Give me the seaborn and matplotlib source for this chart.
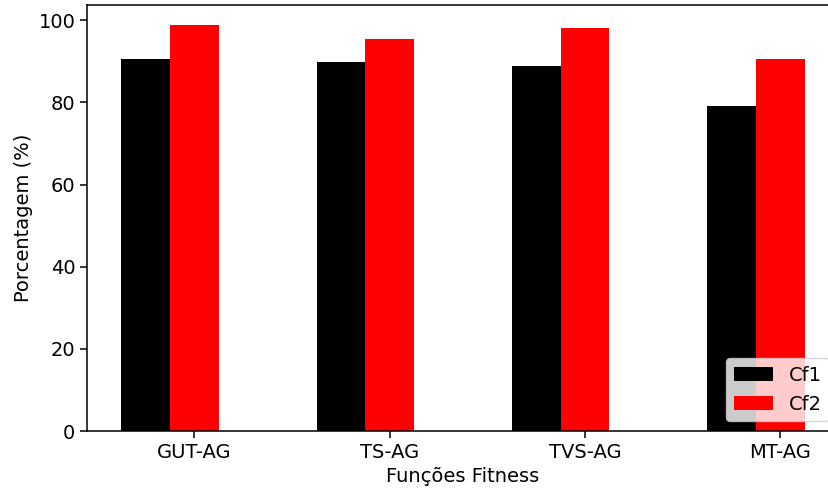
import numpy as np
import pandas as pd
import seaborn as sns
from matplotlib import pyplot as plt

# data
funcoes = ["GUT-AG", "TS-AG", "TVS-AG", "MT-AG"]
cf1 = [90.6, 89.7, 88.8, 79.1]
cf2 = [98.8, 95.4, 98.0, 90.5]

df = pd.DataFrame({
    "funcao": funcoes * 2,
    "valor": cf1 + cf2,
    "serie": ["Cf1"] * len(funcoes) + ["Cf2"] * len(funcoes),
})

# plain matplotlib look, scaled up like the original
plt.rcParams['font.family'] = ['DejaVu Sans']
plt.rcParams['font.size'] = 14
plt.rcParams['axes.linewidth'] = 1.1
plt.rcParams['xtick.major.size'] = 4.9
plt.rcParams['ytick.major.size'] = 4.9
plt.rcParams['xtick.major.width'] = 1.1
plt.rcParams['ytick.major.width'] = 1.1

fig = plt.figure(figsize=(8.29, 4.91), dpi=100)
ax = fig.add_axes([0.105, 0.122, 0.907, 0.868])

sns.barplot(data=df, x="funcao", y="valor", hue="serie",
            palette=["black", "red"], saturation=1, width=0.5,
            errorbar=None, linewidth=0, ax=ax)

ax.set_xticks(np.arange(len(funcoes)) + 0.125)
ax.set_xticklabels(funcoes)
ax.set_xlim(-0.425, 3.425)
ax.set_ylim(0, 103.7)
ax.set_xlabel("Funções Fitness")
ax.set_ylabel("Porcentagem (%)")

handles, labels = ax.get_legend_handles_labels()
ax.legend(handles, labels, loc="lower right", framealpha=0.8)

fig.savefig("out.png", dpi=100)
